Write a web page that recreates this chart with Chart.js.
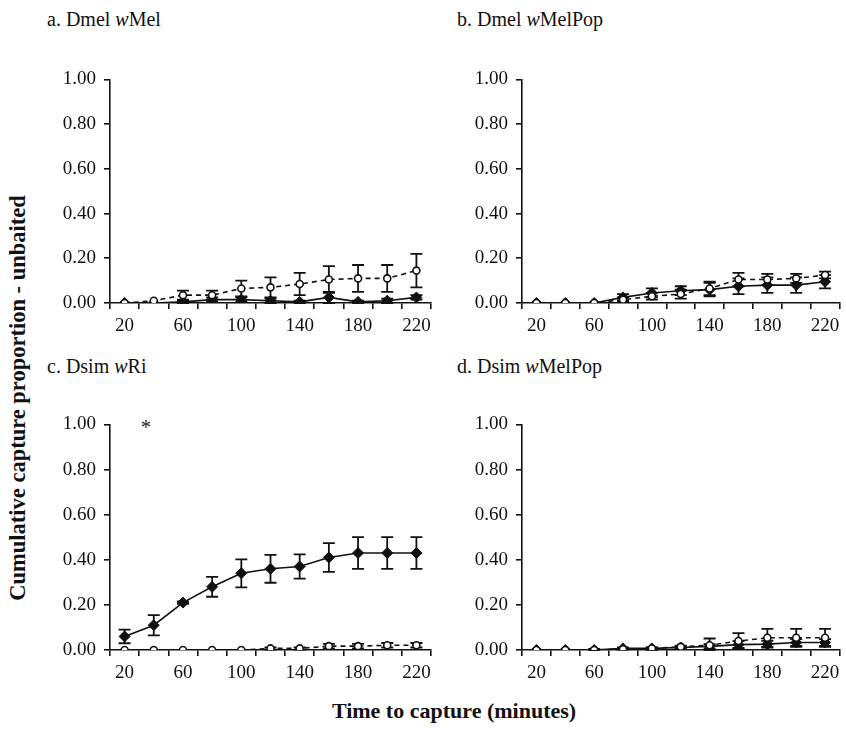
<!DOCTYPE html>
<html>
<head>
<meta charset="utf-8">
<script src="https://cdn.jsdelivr.net/npm/chart.js@4/dist/chart.umd.min.js"></script>
<style>
  body { margin: 0; background: #fff; width: 846px; height: 734px; position: relative; overflow: hidden; font-family: "Liberation Serif", serif; color: #111; }
  .panel { position: absolute; }
  .title { position: absolute; font-size: 20px; white-space: nowrap; line-height: 1; }
  .ylab { position: absolute; left: 18px; top: 398px; font-size: 22.5px; font-weight: bold; white-space: nowrap; transform: translate(-50%, -50%) rotate(-90deg); }
  .xlab { position: absolute; left: 454px; top: 711px; font-size: 22px; font-weight: bold; white-space: nowrap; transform: translate(-50%, -50%); }
  .star { position: absolute; left: 146px; top: 427px; font-size: 20px; transform: translate(-50%, -50%); }
</style>
</head>
<body>
<div class="title" style="left:47px; top:9px;">a. Dmel <i>w</i>Mel</div>
<div class="title" style="left:457px; top:9px;">b. Dmel <i>w</i>MelPop</div>
<div class="title" style="left:47px; top:356px;">c. Dsim <i>w</i>Ri</div>
<div class="title" style="left:457px; top:356px;">d. Dsim <i>w</i>MelPop</div>
<div class="ylab">Cumulative capture proportion - unbaited</div>
<div class="xlab">Time to capture (minutes)</div>

<canvas id="pa" class="panel" width="400" height="283" style="left:40px; top:60px;"></canvas>
<canvas id="pb" class="panel" width="394" height="283" style="left:452px; top:60px;"></canvas>
<canvas id="pc" class="panel" width="400" height="285" style="left:40px; top:405px;"></canvas>
<canvas id="pd" class="panel" width="394" height="285" style="left:452px; top:405px;"></canvas>
<div class="star">*</div>

<script>
// time points (minutes)
const minutes = ['20', '40', '60', '80', '100', '120', '140', '160', '180', '200', '220'];
const yTicks = [0, 0.2, 0.4, 0.6, 0.8, 1.0];

// a. Dmel wMel
const aSolid = [0, 0, 0.005, 0.015, 0.015, 0.01, 0.005, 0.025, 0.005, 0.01, 0.025];
const aSolidErr = [0, 0, 0.005, 0.01, 0.01, 0.01, 0.005, 0.025, 0.005, 0.01, 0.01];
const aDashed = [0, 0.01, 0.035, 0.035, 0.065, 0.07, 0.085, 0.105, 0.11, 0.11, 0.145];
const aDashedErr = [0, 0, 0.02, 0.02, 0.035, 0.045, 0.05, 0.06, 0.06, 0.06, 0.075];

// b. Dmel wMelPop
const bSolid = [0, 0, 0, 0.025, 0.045, 0.055, 0.06, 0.075, 0.08, 0.08, 0.095];
const bSolidErr = [0, 0, 0, 0.015, 0.02, 0.02, 0.03, 0.035, 0.035, 0.035, 0.03];
const bDashed = [0, 0, 0, 0.015, 0.03, 0.04, 0.065, 0.105, 0.105, 0.11, 0.125];
const bDashedErr = [0, 0, 0, 0.01, 0.015, 0.02, 0.03, 0.03, 0.025, 0.02, 0.015];

// c. Dsim wRi
const cSolid = [0.06, 0.11, 0.21, 0.28, 0.34, 0.36, 0.37, 0.41, 0.43, 0.43, 0.43];
const cSolidErr = [0.03, 0.045, 0.005, 0.044, 0.062, 0.062, 0.054, 0.064, 0.07, 0.07, 0.07];
const cDashed = [0, 0, 0, 0, 0, 0.007, 0.007, 0.017, 0.017, 0.021, 0.021];
const cDashedErr = [0, 0, 0, 0, 0, 0.005, 0.005, 0.01, 0.01, 0.01, 0.01];

// d. Dsim wMelPop
const dSolid = [0, 0, 0, 0.007, 0.007, 0.011, 0.016, 0.024, 0.026, 0.033, 0.033];
const dSolidErr = [0, 0, 0.005, 0.005, 0.005, 0.005, 0.01, 0.015, 0.015, 0.015, 0.015];
const dDashed = [0, 0, 0, 0.004, 0.007, 0.014, 0.021, 0.04, 0.054, 0.054, 0.054];
const dDashedErr = [0, 0, 0, 0, 0.005, 0.005, 0.03, 0.035, 0.04, 0.04, 0.04];

const FONT = { family: 'Liberation Serif', size: 19 };
Chart.defaults.color = '#111';

// vertical error bars with caps, drawn under the markers
const errorBars = {
  id: 'errorBars',
  beforeDatasetsDraw(chart) {
    const ctx = chart.ctx;
    const y = chart.scales.y;
    ctx.save();
    ctx.strokeStyle = '#111';
    ctx.lineWidth = 1.8;
    chart.data.datasets.forEach((ds, i) => {
      if (!ds.errors) return;
      chart.getDatasetMeta(i).data.forEach((pt, j) => {
        const e = ds.errors[j];
        if (!e) return;
        const top = y.getPixelForValue(ds.data[j] + e);
        const bot = y.getPixelForValue(Math.max(ds.data[j] - e, 0));
        ctx.beginPath();
        ctx.moveTo(pt.x, top); ctx.lineTo(pt.x, bot);
        ctx.moveTo(pt.x - 6, top); ctx.lineTo(pt.x + 6, top);
        ctx.moveTo(pt.x - 6, bot); ctx.lineTo(pt.x + 6, bot);
        ctx.stroke();
      });
    });
    ctx.restore();
  },
};

function makePanel(id, solid, solidErr, dashed, dashedErr, padRight) {
  return new Chart(document.getElementById(id), {
    type: 'line',
    data: {
      labels: minutes,
      // open circles listed first so they sit on top of the diamonds
      datasets: [
        {
          data: dashed,
          errors: dashedErr,
          borderColor: '#111',
          borderWidth: 1.6,
          borderDash: [5, 4],
          pointStyle: 'circle',
          pointRadius: 3.5,
          pointBackgroundColor: '#fff',
          pointBorderColor: '#111',
          pointBorderWidth: 1.6,
        },
        {
          data: solid,
          errors: solidErr,
          borderColor: '#111',
          borderWidth: 1.6,
          pointStyle: 'rectRot',
          pointRadius: 5.5,
          pointBackgroundColor: '#111',
          pointBorderColor: '#111',
          pointBorderWidth: 1,
        },
      ],
    },
    options: {
      responsive: false,
      animation: false,
      devicePixelRatio: 1,
      layout: { padding: { top: 12, right: padRight, left: 0, bottom: 0 } },
      plugins: {
        legend: { display: false },
        tooltip: { enabled: false },
      },
      scales: {
        x: {
          type: 'category',
          offset: true,
          afterFit: (s) => { s.height = 40; },
          border: { color: '#111', width: 1.6 },
          grid: { offset: true, drawOnChartArea: false, tickLength: 6, color: '#111', lineWidth: 1.6 },
          ticks: {
            autoSkip: false,
            maxRotation: 0,
            padding: 6,
            font: FONT,
            color: '#111',
            callback: (v, i) => (i % 2 === 0 ? minutes[i] : ''),
          },
        },
        y: {
          min: 0,
          max: 1,
          afterFit: (s) => { s.width = 70; },
          afterBuildTicks: (s) => { s.ticks = yTicks.map((v) => ({ value: v })); },
          border: { color: '#111', width: 1.6 },
          grid: { drawOnChartArea: false, tickLength: 6, color: '#111', lineWidth: 1.6 },
          ticks: {
            padding: 8,
            font: FONT,
            color: '#111',
            callback: (v) => Number(v).toFixed(2),
          },
        },
      },
    },
    plugins: [errorBars],
  });
}

makePanel('pa', aSolid, aSolidErr, aDashed, aDashedErr, 9);
makePanel('pb', bSolid, bSolidErr, bDashed, bDashedErr, 3);
makePanel('pc', cSolid, cSolidErr, cDashed, cDashedErr, 9);
makePanel('pd', dSolid, dSolidErr, dDashed, dDashedErr, 3);
</script>
</body>
</html>
